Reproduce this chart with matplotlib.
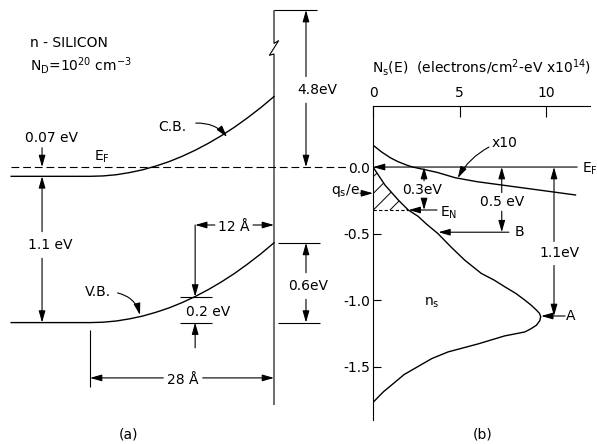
import matplotlib
matplotlib.use('Agg')
import matplotlib.pyplot as plt

plt.rcParams['font.family'] = ['DejaVu Sans']
plt.rcParams['axes.unicode_minus'] = False
plt.rcParams['hatch.linewidth'] = 0.7

# (a) band bending near the surface: distance from surface (A), energy vs E_F (eV)
band_x = [-40, -28, -26, -24, -22, -20, -18, -16, -14, -12, -10, -8, -6, -4, -2, 0]
cb_energy = [-0.07, -0.07, -0.067, -0.058, -0.042, -0.021, 0.007, 0.040, 0.080,
             0.126, 0.178, 0.236, 0.300, 0.371, 0.447, 0.53]
vb_energy = [-1.17, -1.17, -1.167, -1.158, -1.142, -1.121, -1.093, -1.060, -1.020,
             -0.974, -0.922, -0.864, -0.800, -0.729, -0.653, -0.57]

# (b) surface state density N_s(E), units 1e14 electrons/cm2-eV
ns_n = [0, 0.69, 1.46, 2.04, 2.6, 3.1, 3.75, 4.53, 5.3, 6.26, 7.0, 7.61, 8.25,
        8.77, 9.15, 9.44, 9.62, 9.69, 9.64, 9.44, 9.1, 8.77, 7.6, 6.07, 4.34,
        3.4, 2.6, 1.8, 1.25, 0.6, 0]
ns_e = [0.0, -0.135, -0.248, -0.323, -0.37, -0.43, -0.5, -0.604, -0.70, -0.80,
        -0.85, -0.90, -0.95, -1.0, -1.04, -1.075, -1.10, -1.125, -1.155, -1.19,
        -1.218, -1.24, -1.27, -1.33, -1.39, -1.44, -1.5, -1.56, -1.62, -1.69, -1.77]
x10_n = [0, 0.5, 1.0, 1.45, 2.0, 2.3, 3.7, 4.74, 6.0, 8.0, 10.0, 11.7]
x10_e = [0.165, 0.113, 0.07, 0.04, 0.012, 0.0, -0.04, -0.08, -0.11, -0.145, -0.18, -0.21]
n_ticks = [0, 5, 10]
e_ticks = [0.0, -0.5, -1.0, -1.5]
e_ticklabels = ['0.0', '-0.5', '-1.0', '-1.5']

LW = 0.8
FS = 10
HEAD = dict(arrowstyle='-|>,head_length=0.7,head_width=0.2', lw=LW, color='k',
            mutation_scale=10, shrinkA=0, shrinkB=0)


def arrow(a, start, end, **kw):
    props = dict(HEAD)
    props.update(kw)
    a.annotate('', xy=end, xytext=start, arrowprops=props, annotation_clip=False)


def line(a, xs, ys, **kw):
    a.plot(xs, ys, color='k', lw=LW, clip_on=False, solid_capstyle='butt', **kw)


def vdim(a, x, top, bottom, label, ly, gap, lx=None, heads=(True, True)):
    # vertical dimension arrow broken around its label
    if heads[0]:
        arrow(a, (x, ly + gap), (x, top))
    else:
        line(a, [x, x], [ly + gap, top])
    if heads[1]:
        arrow(a, (x, ly - gap), (x, bottom))
    else:
        line(a, [x, x], [ly - gap, bottom])
    a.text(x if lx is None else lx, ly, label, ha='center', va='center', fontsize=FS)


def hdim(a, y, left, right, label, lx, gap, ly=None):
    arrow(a, (lx - gap, y), (left, y))
    arrow(a, (lx + gap, y), (right, y))
    a.text(lx, y if ly is None else ly, label, ha='center', va='center', fontsize=FS)


fig = plt.figure(figsize=(5.97, 4.44), dpi=100)

# ---------------- (a) ----------------
ax = fig.add_axes([0, 0, 1, 1])
ax.set_xlim(-41.7, 49.16)
ax.set_ylim(-2.083, 1.256)
ax.axis('off')

ax.plot(band_x, cb_energy, color='k', lw=1.0)
ax.plot(band_x, vb_energy, color='k', lw=1.0)
ax.plot([-40, 10.9], [0, 0], color='k', lw=LW, dashes=(7, 3.5))

# surface wall with break
line(ax, [0, 0, 0.7, -0.7, 0, 0], [1.18, 0.93, 0.95, 0.84, 0.85, -1.79])
line(ax, [0, 6.5], [1.18, 1.18])
vdim(ax, 4.87, 1.18, 0.0, '4.8eV', 0.58, 0.1, lx=6.6)

line(ax, [0.6, 7.0], [-0.571, -0.571])
line(ax, [0.6, 7.0], [-1.17, -1.17])
vdim(ax, 4.87, -0.571, -1.17, '0.6eV', -0.895, 0.1, lx=5.2)

ax.text(-37.1, 0.93, 'n - SILICON', ha='left', va='center', fontsize=FS)
ax.text(-37.1, 0.765, r'N$_\mathregular{D}$=10$^\mathregular{20}$ cm$^\mathregular{-3}$',
        ha='left', va='center', fontsize=FS)

ax.text(-33.9, 0.22, '0.07 eV', ha='center', va='center', fontsize=FS)
arrow(ax, (-35.3, 0.145), (-35.3, 0.0))
vdim(ax, -35.3, -0.07, -1.17, '1.1 eV', -0.586, 0.1, lx=-34.0)
ax.text(-26.2, 0.075, r'E$_\mathregular{F}$', ha='center', va='center', fontsize=FS)

ax.text(-15.4, 0.30, 'C.B.', ha='center', va='center', fontsize=FS)
arrow(ax, (-11.9, 0.33), (-7.15, 0.226), connectionstyle='arc3,rad=-0.25')
ax.text(-26.8, -0.94, 'V.B.', ha='center', va='center', fontsize=FS)
arrow(ax, (-23.8, -0.947), (-20.4, -1.113), connectionstyle='arc3,rad=-0.3')

hdim(ax, -0.436, -12, 0, '12 Å', -6.1, 2.9, ly=-0.45)
arrow(ax, (-12, -0.436), (-12, -0.974))
line(ax, [-14.3, -9.4], [-0.974, -0.974])
line(ax, [-14.3, -9.4], [-1.17, -1.17])
arrow(ax, (-12, -1.36), (-12, -1.17))
ax.text(-10.0, -1.09, '0.2 eV', ha='center', va='center', fontsize=FS)

hdim(ax, -1.586, -28, 0, '28 Å', -13.85, 3.0, ly=-1.60)
line(ax, [-28, -28], [-1.225, -1.654])

ax.text(-22.1, -2.015, '(a)', ha='center', va='center', fontsize=FS)
ax.text(31.8, -2.015, '(b)', ha='center', va='center', fontsize=FS)

# ---------------- (b) ----------------
axb = fig.add_axes([373 / 597, 24 / 444, 217 / 597, 314 / 444])
axb.patch.set_alpha(0)
axb.set_xlim(0, 12.54)
axb.set_ylim(-1.902, 0.459)
for s in ['right', 'bottom']:
    axb.spines[s].set_visible(False)
for s in ['left', 'top']:
    axb.spines[s].set_linewidth(LW)
axb.xaxis.tick_top()
axb.set_xticks(n_ticks)
axb.set_yticks(e_ticks)
axb.set_yticklabels(e_ticklabels)
axb.tick_params(axis='x', direction='in', length=8, width=LW, pad=4, labelsize=FS)
axb.tick_params(axis='y', direction='in', length=6, width=LW, pad=2, labelsize=FS)
fig.text(372 / 597, 1 - 67 / 444,
         r'N$_\mathregular{s}$(E)  (electrons/cm$^\mathregular{2}$-eV x10$^\mathregular{14}$)',
         ha='left', va='center', fontsize=FS)

axb.plot(ns_n, ns_e, color='k', lw=1.0)
axb.plot(x10_n, x10_e, color='k', lw=1.0)
axb.fill_betweenx(ns_e[:4], 0, ns_n[:4], hatch='//', facecolor='none', edgecolor='k', lw=0)
axb.plot([0, 2.04], [-0.323, -0.323], color='k', lw=LW, dashes=(3, 2))

arrow(axb, (11.8, 0.0), (0, 0.0))
axb.text(12.1, -0.01, r'E$_\mathregular{F}$', ha='left', va='center', fontsize=FS)

axb.text(7.6, 0.18, 'x10', ha='center', va='center', fontsize=FS)
arrow(axb, (6.7, 0.15), (4.9, -0.083), connectionstyle='arc3,rad=0.15')

axb.text(-0.75, -0.18, r'q$_\mathregular{s}$/e', ha='right', va='center', fontsize=FS)
arrow(axb, (-0.75, -0.197), (0, -0.197))

vdim(axb, 2.95, 0.0, -0.323, '0.3eV', -0.173, 0.07, lx=2.83)
arrow(axb, (3.7, -0.323), (2.06, -0.323))
axb.text(4.35, -0.345, r'E$_\mathregular{N}$', ha='center', va='center', fontsize=FS)

vdim(axb, 7.44, 0.0, -0.49, '0.5 eV', -0.262, 0.07)
arrow(axb, (7.85, -0.49), (3.78, -0.49))
axb.text(8.45, -0.49, 'B', ha='center', va='center', fontsize=FS)

vdim(axb, 10.46, 0.0, -1.12, '1.1eV', -0.65, 0.09, lx=10.75)
arrow(axb, (11.1, -1.12), (9.72, -1.12))
axb.text(11.45, -1.12, 'A', ha='center', va='center', fontsize=FS)

axb.text(3.4, -1.02, r'n$_\mathregular{s}$', ha='center', va='center', fontsize=FS)

fig.savefig('out.png', dpi=100, facecolor='white')
